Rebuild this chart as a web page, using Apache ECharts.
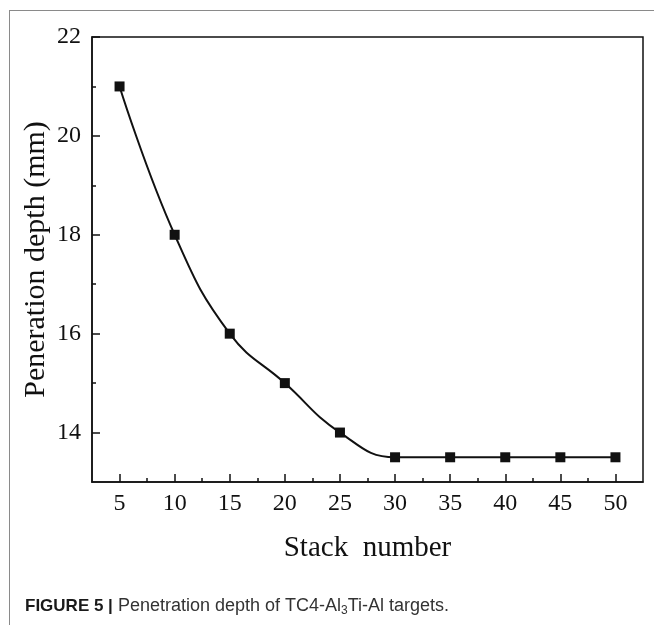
<!DOCTYPE html>
<html>
<head>
<meta charset="utf-8">
<title>Penetration depth vs stack number</title>
<script src="https://cdn.jsdelivr.net/npm/echarts@6/dist/echarts.min.js"></script>
<style>
  html, body { margin: 0; padding: 0; background: #fff; }
  #frame {
    position: absolute; left: 9px; top: 10px; width: 645px; height: 615px;
    border-top: 1.5px solid #8a8a8a; border-left: 1.5px solid #8a8a8a;
    box-sizing: border-box;
  }
  #chart { position: absolute; left: 0; top: 0; width: 654px; height: 625px; }
</style>
</head>
<body>
<div id="frame"></div>
<div id="chart"></div>
<script>
// Stack number vs penetration depth
const stackNumbers = [5, 10, 15, 20, 25, 30, 35, 40, 45, 50];
const depthMm = [21, 18, 16, 15, 14, 13.5, 13.5, 13.5, 13.5, 13.5];

// Tick positions
const xMajorTicks = [5, 10, 15, 20, 25, 30, 35, 40, 45, 50];
const xMinorTicks = [7.5, 12.5, 17.5, 22.5, 27.5, 32.5, 37.5, 42.5, 47.5];
const yMajorTicks = [14, 16, 18, 20, 22];
const yMinorTicks = [15, 17, 19, 21];

const serif = '"Liberation Serif", "Times New Roman", serif';
const sans = '"Liberation Sans", Arial, sans-serif';
const ink = '#111';

const chart = echarts.init(document.getElementById('chart'), null, { renderer: 'canvas' });

const baseX = { type: 'value', min: 2.5, max: 52.5, gridIndex: 0, position: 'bottom' };
const baseY = { type: 'value', min: 13, max: 22, gridIndex: 0, position: 'left' };

chart.setOption({
  backgroundColor: 'transparent',
  animation: false,
  title: {
    left: 20, top: 591,
    text: '{b|FIGURE 5 |} {n|Penetration depth of TC4-Al}{s|3}{n|Ti-Al targets.}',
    textStyle: {
      fontWeight: 'normal',
      rich: {
        b: { fontFamily: sans, fontWeight: 'bold', fontSize: 17, color: '#1a1a1a' },
        n: { fontFamily: sans, fontWeight: 'normal', fontSize: 18, color: '#333' },
        s: { fontFamily: sans, fontWeight: 'normal', fontSize: 12, color: '#333', verticalAlign: 'bottom', padding: [9, 0, 0, 0] }
      }
    }
  },
  grid: {
    left: 92, top: 37, right: 11, bottom: 143,
    show: true, borderColor: ink, borderWidth: 1.5, backgroundColor: 'transparent'
  },
  xAxis: [
    Object.assign({}, baseX, {
      name: 'Stack  number',
      nameLocation: 'middle',
      nameGap: 52,
      nameTextStyle: { fontFamily: serif, fontSize: 29, color: ink },
      axisLine: { show: true, onZero: false, lineStyle: { color: ink, width: 1.5 } },
      axisTick: { show: true, inside: true, length: 8, customValues: xMajorTicks, lineStyle: { color: ink, width: 1.5 } },
      axisLabel: { show: true, customValues: xMajorTicks, margin: 10, fontFamily: serif, fontSize: 24, color: ink },
      splitLine: { show: false }
    }),
    Object.assign({}, baseX, {
      axisLine: { show: false, onZero: false },
      axisTick: { show: true, inside: true, length: 4, customValues: xMinorTicks, lineStyle: { color: ink, width: 1.5 } },
      axisLabel: { show: false },
      splitLine: { show: false }
    })
  ],
  yAxis: [
    Object.assign({}, baseY, {
      name: 'Peneration depth (mm)',
      nameLocation: 'middle',
      nameGap: 41,
      nameMoveOverlap: false,
      nameTextStyle: { fontFamily: serif, fontSize: 30, color: ink },
      axisLine: { show: true, onZero: false, lineStyle: { color: ink, width: 1.5 } },
      axisTick: { show: true, inside: true, length: 8, customValues: yMajorTicks, lineStyle: { color: ink, width: 1.5 } },
      axisLabel: { show: true, customValues: yMajorTicks, margin: 11, fontFamily: serif, fontSize: 24, color: ink },
      splitLine: { show: false }
    }),
    Object.assign({}, baseY, {
      axisLine: { show: false, onZero: false },
      axisTick: { show: true, inside: true, length: 4, customValues: yMinorTicks, lineStyle: { color: ink, width: 1.5 } },
      axisLabel: { show: false },
      splitLine: { show: false }
    })
  ],
  series: [{
    type: 'line',
    xAxisIndex: 0,
    yAxisIndex: 0,
    data: stackNumbers.map((x, i) => [x, depthMm[i]]),
    smooth: 0.45,
    symbol: 'rect',
    symbolSize: 10,
    showSymbol: true,
    lineStyle: { color: ink, width: 2 },
    itemStyle: { color: ink },
    z: 3
  }]
});
</script>
</body>
</html>
